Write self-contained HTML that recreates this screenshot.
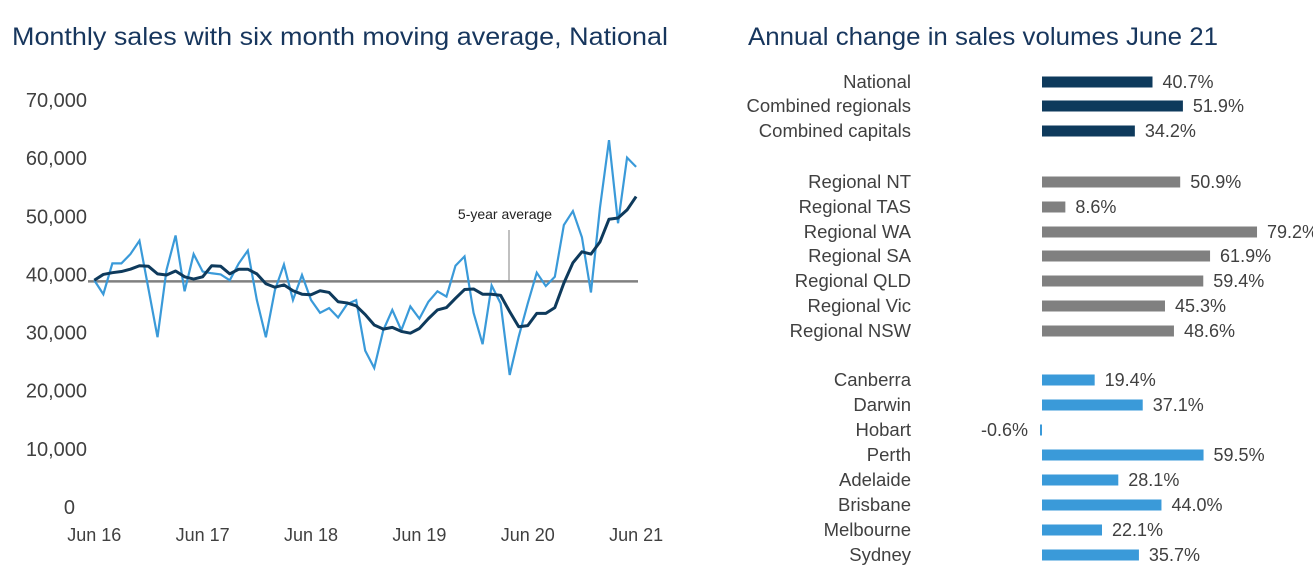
<!DOCTYPE html>
<html><head><meta charset="utf-8"><style>
body{margin:0;background:#fff;font-family:"Liberation Sans",sans-serif;}
svg{display:block}
text{font-family:"Liberation Sans",sans-serif;}
</style></head><body>
<svg id="c" width="1313" height="568">
<text x="12" y="45" font-size="25" textLength="656" lengthAdjust="spacingAndGlyphs" fill="#17365d">Monthly sales with six month moving average, National</text>
<text x="748" y="45" font-size="25" textLength="470" lengthAdjust="spacingAndGlyphs" fill="#17365d">Annual change in sales volumes June 21</text>
<g id="left"></g>
<g id="right"></g>
</svg>
<script>
const yTicks=[0,10000,20000,30000,40000,50000,60000,70000];
const xTickLabels=["Jun 16","Jun 17","Jun 18","Jun 19","Jun 20","Jun 21"];
const monthly=[39.0,36.6,41.9,41.9,43.5,45.8,37.5,29.2,40.8,46.7,37.1,43.5,40.5,40.2,40.0,39.0,41.9,44.1,35.6,29.2,37.3,41.7,35.6,39.9,35.6,33.4,34.2,32.6,34.9,35.6,26.9,23.9,30.4,33.9,30.4,34.5,32.4,35.3,37.1,36.2,41.5,43.1,33.4,28.0,38.1,35.0,22.7,29.3,35.0,40.3,38.0,39.6,48.5,50.9,46.4,36.9,51.5,63.1,48.8,60.1,58.5];
const movingAvg=[39.0,40.0,40.3,40.5,40.9,41.5,41.4,40.1,39.9,40.6,39.6,39.2,39.6,41.5,41.4,40.1,40.9,40.9,40.1,38.4,37.8,38.2,37.2,36.6,36.5,37.2,36.9,35.3,35.1,34.6,33.1,31.3,30.6,30.9,30.2,29.9,30.7,32.4,33.9,34.3,35.9,37.4,37.5,36.6,36.6,36.4,33.6,31.0,31.2,33.3,33.3,34.3,38.5,42.0,43.9,43.5,45.6,49.5,49.7,51.1,53.4];
const fiveYearAvg=38.8;
const barLabels=["National","Combined regionals","Combined capitals","Regional NT","Regional TAS","Regional WA","Regional SA","Regional QLD","Regional Vic","Regional NSW","Canberra","Darwin","Hobart","Perth","Adelaide","Brisbane","Melbourne","Sydney"];
const barValues=[40.7,51.9,34.2,50.9,8.6,79.2,61.9,59.4,45.3,48.6,19.4,37.1,-0.6,59.5,28.1,44.0,22.1,35.7];
const barGroups=[0,0,0,1,1,1,1,1,1,1,2,2,2,2,2,2,2,2];

const NS="http://www.w3.org/2000/svg";
function mk(tag,attrs,parent,txt){const e=document.createElementNS(NS,tag);for(const k in attrs)e.setAttribute(k,attrs[k]);if(txt!==undefined)e.textContent=txt;parent.appendChild(e);return e;}
const L=document.getElementById('left');
const xS=i=>94.3+i*9.03;
const yS=v=>507-v*5.814/1000;
yTicks.forEach(t=>{const e=mk('text',{x:t===0?75:87,y:yS(t)+7,'font-size':20,fill:'#404040','text-anchor':'end'},L,t.toLocaleString('en-US'));

});
xTickLabels.forEach((t,k)=>{const e=mk('text',{x:xS(k*12),y:541,'font-size':18,fill:'#404040','text-anchor':'middle'},L,t);

});
const avg=mk('line',{x1:88,x2:638,y1:yS(fiveYearAvg*1000),y2:yS(fiveYearAvg*1000),stroke:'#808080','stroke-width':2.5},L);


const ann=mk('line',{x1:509,x2:509,y1:230,y2:yS(fiveYearAvg*1000),stroke:'#808080','stroke-width':1},L);


const at=mk('text',{x:505,y:219,'font-size':14,fill:'#222','text-anchor':'middle'},L,'5-year average');


const p1=mk('polyline',{points:monthly.map((v,i)=>xS(i)+','+yS(v*1000)).join(' '),fill:'none',stroke:'#3a9ad9','stroke-width':2.2,'stroke-linejoin':'miter'},L);


const p2=mk('polyline',{points:movingAvg.map((v,i)=>xS(i)+','+yS(v*1000)).join(' '),fill:'none',stroke:'#0e3a5c','stroke-width':3,'stroke-linejoin':'round'},L);



const R=document.getElementById('right');
const colors=['#0e3a5c','#808080','#3a9ad9'];
const x0=1042,k=2.715;
const rowY=[82,106,131,182,207,232,256,281,306,331,380,405,430,455,480,505,530,555];
barLabels.forEach((lab,i)=>{
 const y=rowY[i],v=barValues[i];
 const t=mk('text',{x:911,y:y+6,'font-size':18.5,fill:'#404040','text-anchor':'end'},R,lab);
 
 
 const w=Math.max(Math.abs(v)*k,2);
 const r=mk('rect',{x:v<0?x0-w:x0,y:y-5.5,width:w,height:11,fill:colors[barGroups[i]]},R);
 
 
 const lt=v.toFixed(1)+'%';
 const vl=mk('text',{x:v<0?x0-14:x0+v*k+10,y:y+6,'font-size':18,fill:'#404040','text-anchor':v<0?'end':'start'},R,lt);
 
 
});
</script>
</body></html>
